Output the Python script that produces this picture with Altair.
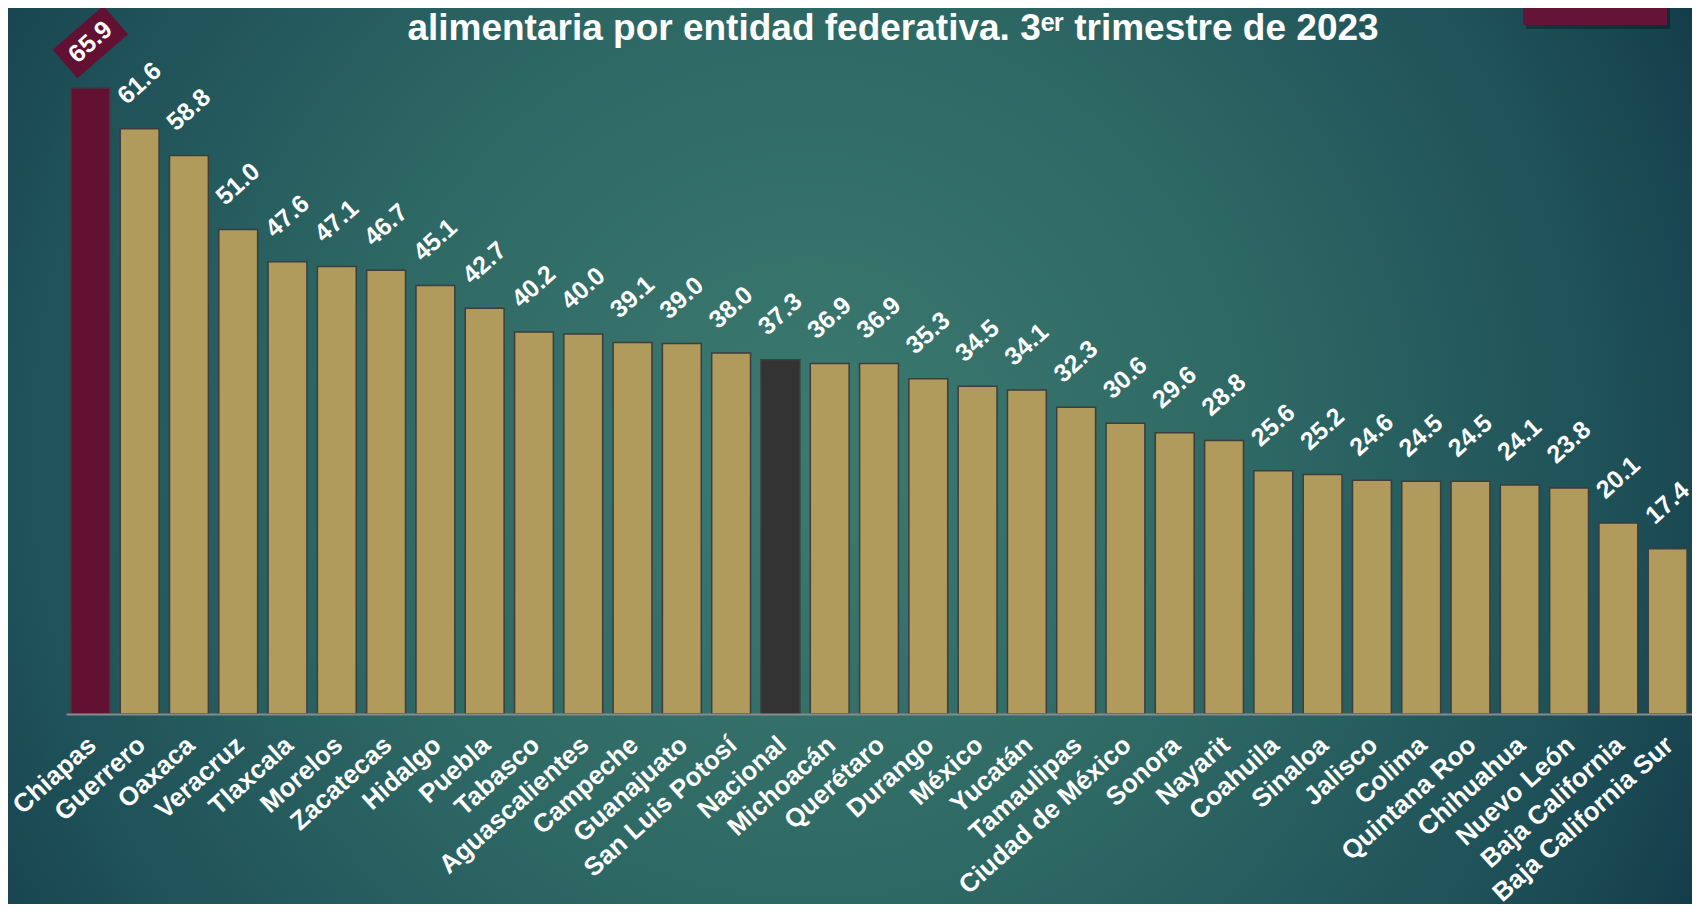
import altair as alt
import pandas as pd

# ---------------- data ----------------
entidades = [
    "Chiapas", "Guerrero", "Oaxaca", "Veracruz", "Tlaxcala", "Morelos",
    "Zacatecas", "Hidalgo", "Puebla", "Tabasco", "Aguascalientes", "Campeche",
    "Guanajuato", "San Luis Potosí", "Nacional", "Michoacán", "Querétaro",
    "Durango", "México", "Yucatán", "Tamaulipas", "Ciudad de México", "Sonora",
    "Nayarit", "Coahuila", "Sinaloa", "Jalisco", "Colima", "Quintana Roo",
    "Chihuahua", "Nuevo León", "Baja California", "Baja California Sur",
]
valores = [
    65.9, 61.6, 58.8, 51.0, 47.6, 47.1, 46.7, 45.1, 42.7, 40.2, 40.0, 39.1,
    39.0, 38.0, 37.3, 36.9, 36.9, 35.3, 34.5, 34.1, 32.3, 30.6, 29.6, 28.8,
    25.6, 25.2, 24.6, 24.5, 24.5, 24.1, 23.8, 20.1, 17.4,
]
grupos = ["máximo" if e == "Chiapas" else "nacional" if e == "Nacional" else "entidad"
          for e in entidades]

titulo = "alimentaria por entidad federativa. 3ᵉʳ trimestre de 2023"

df = pd.DataFrame({"entidad": entidades, "valor": valores, "grupo": grupos})
one = pd.DataFrame({"k": [0]})

W, H = 1626, 665
PAD = {"left": 58, "top": 41, "right": 0, "bottom": 190}
FONT = "Liberation Sans"
ANG = 318

x = alt.X(
    "entidad:N", sort=entidades,
    scale=alt.Scale(paddingInner=0.212, paddingOuter=0.1),
    axis=alt.Axis(
        title=None, labelAngle=ANG, labelAlign="right", labelBaseline="middle",
        labelFont=FONT, labelFontWeight="bold", labelFontSize=26,
        labelColor="white", labelPadding=27, labelOffset=2, ticks=False,
        domainColor="#8a8a8a", domainWidth=2, labelOverlap=False,
        labelLimit=0, labelBound=False, zindex=1,
    ),
)
y = alt.Y("valor:Q", scale=alt.Scale(domain=[0, 70], nice=False, zero=True), axis=None)

bg = alt.Chart(one).mark_rect(
    fill=alt.RadialGradient(
        gradient="radial",
        stops=[
            alt.GradientStop(color="#3c7a70", offset=0),
            alt.GradientStop(color="#2e6864", offset=0.45),
            alt.GradientStop(color="#1e5058", offset=0.8),
            alt.GradientStop(color="#18444f", offset=0.92),
            alt.GradientStop(color="#123a48", offset=1),
        ],
        x1=0.475, y1=0.5, r1=0, x2=0.475, y2=0.5, r2=0.6,
    ),
).encode(x=alt.value(-PAD["left"]), x2=alt.value(W + PAD["right"]),
         y=alt.value(-PAD["top"]), y2=alt.value(H + PAD["bottom"]))

shadow = alt.Chart(one).mark_rect(color="#000000", opacity=0.3).encode(
    x=alt.value(1460), x2=alt.value(1604), y=alt.value(-49), y2=alt.value(-20))
caja = alt.Chart(one).mark_rect(color="#641436").encode(
    x=alt.value(1457), x2=alt.value(1601), y=alt.value(-49), y2=alt.value(-24))

bars = alt.Chart(df).mark_bar(stroke="#3d3d3d", strokeWidth=1.5).encode(
    x=x, y=y,
    color=alt.Color("grupo:N",
                    scale=alt.Scale(domain=["máximo", "nacional", "entidad"],
                                    range=["#621132", "#333333", "#B09B5C"]),
                    legend=None),
)

labels = alt.Chart(df).transform_filter(alt.datum.entidad != "Chiapas").mark_text(
    angle=ANG, align="left", baseline="middle", dx=6, dy=-34,
    font=FONT, fontWeight="bold", fontSize=25, color="white",
).encode(x=x, y=y, text=alt.Text("valor:Q", format=".1f"))

ROT_RECT = "M1.107,-0.228L0.381,-1.064L-1.107,0.228L-0.381,1.064Z"
marco = alt.Chart(df).transform_filter(alt.datum.entidad == "Chiapas").mark_point(
    shape=ROT_RECT, size=4624, filled=True, color="#621132", opacity=1,
    strokeWidth=0, yOffset=-46,
).encode(x=x, y=y)
etiqueta_max = alt.Chart(df).transform_filter(alt.datum.entidad == "Chiapas").mark_text(
    angle=ANG, align="center", baseline="middle", yOffset=-46,
    font=FONT, fontWeight="bold", fontSize=25, color="white",
).encode(x=x, y=y, text=alt.Text("valor:Q", format=".1f"))

chart = alt.layer(bg, shadow, caja, bars, labels, marco, etiqueta_max).properties(
    width=W, height=H,
    padding=PAD,
    autosize=alt.AutoSizeParams(type="none"),
    title=alt.TitleParams(
        text=titulo, color="white", font=FONT, fontWeight="bold", fontSize=37,
        anchor="middle", frame="group", dx=14, dy=50, offset=2,
    ),
).configure_view(strokeWidth=0).configure(background="#1e5058")

chart.save("out.html", embed_options={"renderer": "svg", "actions": False})
